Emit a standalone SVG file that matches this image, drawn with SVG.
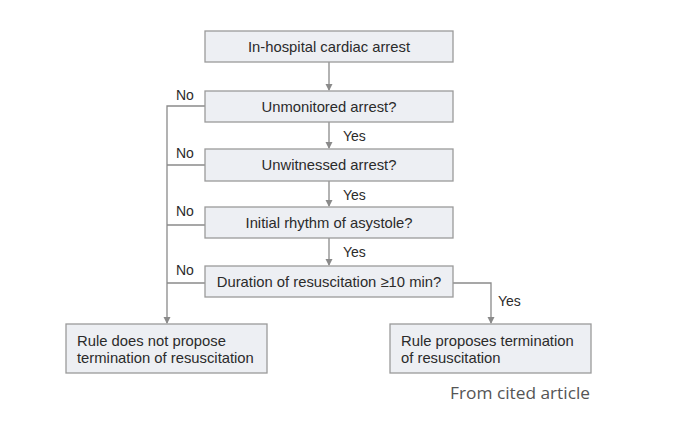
<svg xmlns="http://www.w3.org/2000/svg" width="680" height="441" viewBox="0 0 680 441">
<style>
.box{fill:#edeff3;stroke:#9a9a9a;stroke-width:1.3}
.t{font-family:"Liberation Sans",Arial,sans-serif;font-size:14.8px;fill:#2b2b2b}
.c{text-anchor:middle}
.ln{fill:none;stroke:#8a8a8a;stroke-width:1.3}
.lb{font-family:"Liberation Sans",Arial,sans-serif;font-size:14px;fill:#2b2b2b}
</style>
<defs>
<marker id="ah" markerWidth="8" markerHeight="8" refX="6" refY="4" orient="auto" markerUnits="userSpaceOnUse">
<path d="M0,0.5 L7,4 L0,7.5 Z" fill="#8a8a8a"/>
</marker>
</defs>
<rect width="680" height="441" fill="#fff"/>
<g id="connectors">
<line class="ln" x1="329" y1="62" x2="329" y2="90" marker-end="url(#ah)"/>
<line class="ln" x1="329" y1="122" x2="329" y2="148" marker-end="url(#ah)"/>
<line class="ln" x1="329" y1="181" x2="329" y2="206" marker-end="url(#ah)"/>
<line class="ln" x1="329" y1="238" x2="329" y2="265" marker-end="url(#ah)"/>
<polyline class="ln" points="205,106 167,106 167,323" marker-end="url(#ah)"/>
<line class="ln" x1="205" y1="165" x2="167" y2="165"/>
<line class="ln" x1="205" y1="225" x2="167" y2="225"/>
<line class="ln" x1="205" y1="283" x2="167" y2="283"/>
<polyline class="ln" points="453,283 491,283 491,323" marker-end="url(#ah)"/>
<text class="lb" x="176" y="100">No</text>
<text class="lb" x="176" y="158">No</text>
<text class="lb" x="176" y="216">No</text>
<text class="lb" x="176" y="275">No</text>
<text class="lb" x="343" y="141">Yes</text>
<text class="lb" x="343" y="200">Yes</text>
<text class="lb" x="343" y="257">Yes</text>
<text class="lb" x="498" y="306">Yes</text>
</g>
<g id="n1"><rect class="box" x="205" y="31" width="248" height="31"/><text class="t c" x="329" y="52">In-hospital cardiac arrest</text></g>
<g id="n2"><rect class="box" x="205" y="91" width="248" height="31"/><text class="t c" x="329" y="112">Unmonitored arrest?</text></g>
<g id="n3"><rect class="box" x="205" y="149" width="248" height="32"/><text class="t c" x="329" y="170">Unwitnessed arrest?</text></g>
<g id="n4"><rect class="box" x="205" y="207" width="248" height="31"/><text class="t c" x="329" y="228">Initial rhythm of asystole?</text></g>
<g id="n5"><rect class="box" x="205" y="266" width="248" height="31"/><text class="t c" x="329" y="287">Duration of resuscitation ≥10 min?</text></g>
<g id="n6"><rect class="box" x="66" y="324" width="201" height="49"/><text class="t" x="77" y="346">Rule does not propose</text><text class="t" x="77" y="363">termination of resuscitation</text></g>
<g id="n7"><rect class="box" x="390" y="324" width="201" height="49"/><text class="t" x="401" y="346">Rule proposes termination</text><text class="t" x="401" y="363">of resuscitation</text></g>
<text x="450" y="399" font-family="'Open Sans',sans-serif" font-size="16.5" fill="#555" textLength="140" lengthAdjust="spacingAndGlyphs">From cited article</text>
</svg>
